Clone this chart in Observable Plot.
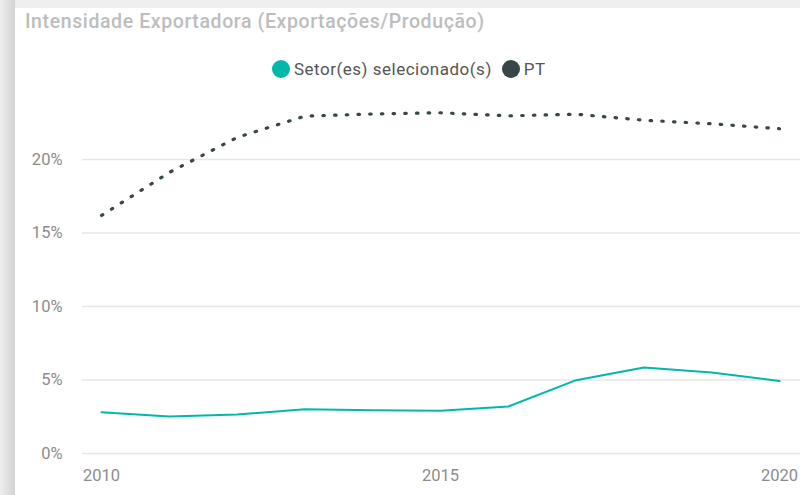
<!DOCTYPE html>
<html>
<head>
<meta charset="utf-8">
<script src="https://cdn.jsdelivr.net/npm/d3@7"></script>
<script src="https://cdn.jsdelivr.net/npm/@observablehq/plot@0.6"></script>
<style>
  html, body { margin: 0; padding: 0; width: 800px; height: 495px; overflow: hidden; background: #efefef; font-family: Roboto, sans-serif; }
  #strip { position: absolute; left: 0; top: 0; width: 15px; height: 495px; background: linear-gradient(to right, #eeeeee, #d3d3d3); }
  #panel { position: absolute; left: 15px; top: 8px; width: 800px; height: 500px; background: #ffffff; }
  #title { position: absolute; left: 25px; top: 12px; font-size: 19.5px; letter-spacing: 0.6px; font-weight: 500; line-height: 19px; color: #bdbdbd; white-space: nowrap; }
  #legend { position: absolute; left: 272px; top: 59px; height: 20px; display: flex; align-items: center; font-size: 17px; letter-spacing: 0.5px; color: #555; white-space: nowrap; }
  .sw { width: 18px; height: 18px; border-radius: 50%; display: inline-block; margin-right: 4px; }
  .item { display: flex; align-items: center; margin-right: 10px; }
  #chart { position: absolute; left: 0; top: 0; }
</style>
</head>
<body>
<div id="strip"></div>
<div id="panel"></div>
<div id="chart"></div>
<div id="title">Intensidade Exportadora (Exportações/Produção)</div>
<div id="legend"></div>
<script>
// Data
const years = [2010, 2011, 2012, 2013, 2014, 2015, 2016, 2017, 2018, 2019, 2020];
const sectorValues = [2.81, 2.52, 2.65, 3.01, 2.95, 2.90, 3.20, 4.99, 5.85, 5.51, 4.93]; // %
const ptValues = [16.19, 19.12, 21.5, 22.95, 23.1, 23.18, 22.97, 23.08, 22.67, 22.43, 22.09]; // %
const seriesNames = ["Setor(es) selecionado(s)", "PT"];
const seriesColors = ["#01B8AA", "#374649"];
const yTicks = [0, 0.05, 0.10, 0.15, 0.20];
const xTicks = [2010, 2015, 2020];

const sector = years.map((yr, i) => ({year: yr, value: sectorValues[i] / 100}));
const pt = years.map((yr, i) => ({year: yr, value: ptValues[i] / 100}));

// Legend
const legend = document.getElementById("legend");
seriesNames.forEach((name, i) => {
  const item = document.createElement("span");
  item.className = "item";
  const sw = document.createElement("span");
  sw.className = "sw";
  sw.style.background = seriesColors[i];
  item.appendChild(sw);
  item.appendChild(document.createTextNode(name));
  legend.appendChild(item);
});

const chart = Plot.plot({
  width: 800,
  height: 495,
  marginLeft: 82,
  marginRight: 0,
  marginTop: 0,
  marginBottom: 42,
  style: {fontFamily: "Roboto, sans-serif", fontSize: "16.5px", color: "#8c8c8c", background: "transparent", overflow: "visible"},
  x: {domain: [2010, 2020], range: [101, 779], ticks: xTicks, tickFormat: d => String(d), tickSize: 0, tickPadding: 16, label: null},
  y: {domain: [0, 0.25], range: [453, 85.5], ticks: yTicks, tickFormat: d => Math.round(d * 100) + "%", tickSize: 0, tickPadding: 20, label: null},
  marks: [
    Plot.ruleY(yTicks, {stroke: "#e6e6e6", strokeWidth: 1.5}),
    Plot.line(sector, {x: "year", y: "value", stroke: seriesColors[0], strokeWidth: 2}),
    Plot.line(pt, {x: "year", y: "value", stroke: seriesColors[1], strokeWidth: 3.2, strokeDasharray: "1.5,10.2", strokeLinecap: "round"})
  ]
});
document.getElementById("chart").appendChild(chart);
</script>
</body>
</html>
